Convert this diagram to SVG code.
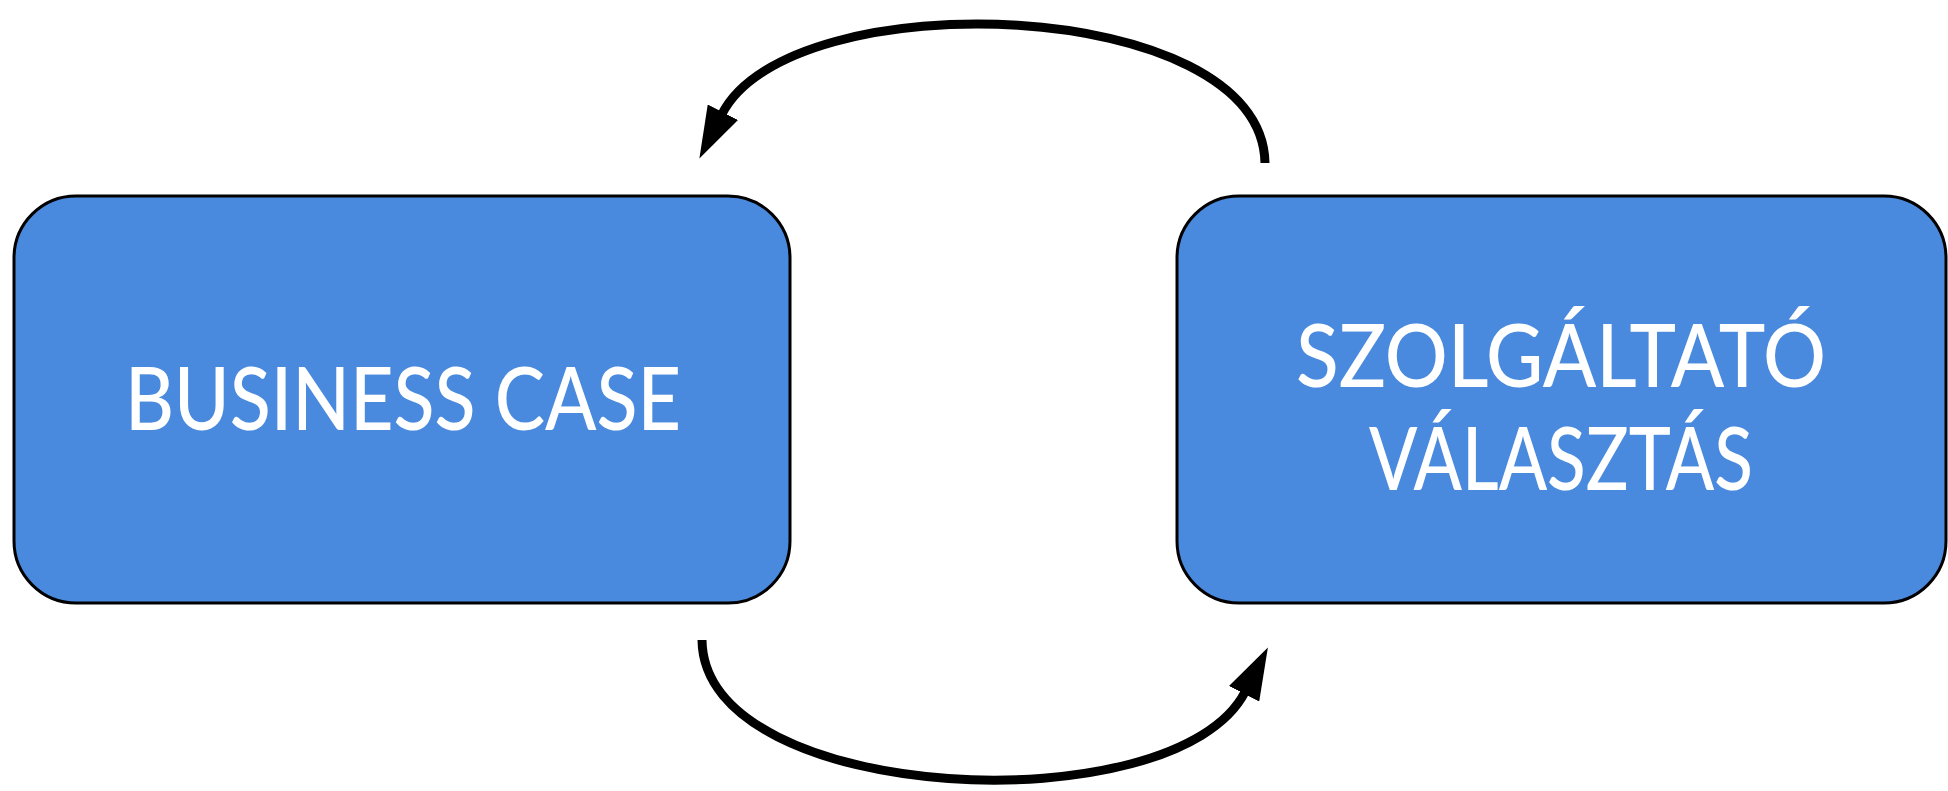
<svg xmlns="http://www.w3.org/2000/svg" width="1948" height="791" viewBox="0 0 1948 791">
<style>
.box{fill:#4a8ade;stroke:#000;stroke-width:3}
.lbl{fill:#fff;font-family:Lato,"Open Sans","DejaVu Sans",sans-serif;font-size:86px;font-weight:500;text-anchor:middle}
.conn{fill:none;stroke:#000;stroke-width:9}
</style>
<defs>
<marker id="ah" markerUnits="userSpaceOnUse" markerWidth="52" markerHeight="34" viewBox="0 0 52 34" refX="2" refY="17" orient="auto">
<path d="M0,0 L52,17 L0,34 z" fill="#000"/>
</marker>
</defs>
<rect width="1948" height="791" fill="#fff"/>
<g id="node-business-case">
<rect class="box" x="14" y="196" width="776" height="407" rx="62" ry="62"/>
<text class="lbl" x="403" y="430" textLength="556" lengthAdjust="spacingAndGlyphs">BUSINESS CASE</text>
</g>
<g id="node-szolgaltato">
<rect class="box" x="1177" y="196" width="769" height="407" rx="62" ry="62"/>
<text class="lbl"><tspan x="1561" y="387" textLength="530" lengthAdjust="spacingAndGlyphs">SZOLGÁLTATÓ</tspan><tspan x="1561" y="490" textLength="384" lengthAdjust="spacingAndGlyphs">VÁLASZTÁS</tspan></text>
</g>
<g id="connectors">
<path class="conn" d="M1265,163 C1262,-5 790,-20 722,114" marker-end="url(#ah)"/>
<path class="conn" d="M702,640 C704,806 1176,826 1245,692" marker-end="url(#ah)"/>
</g>
</svg>
